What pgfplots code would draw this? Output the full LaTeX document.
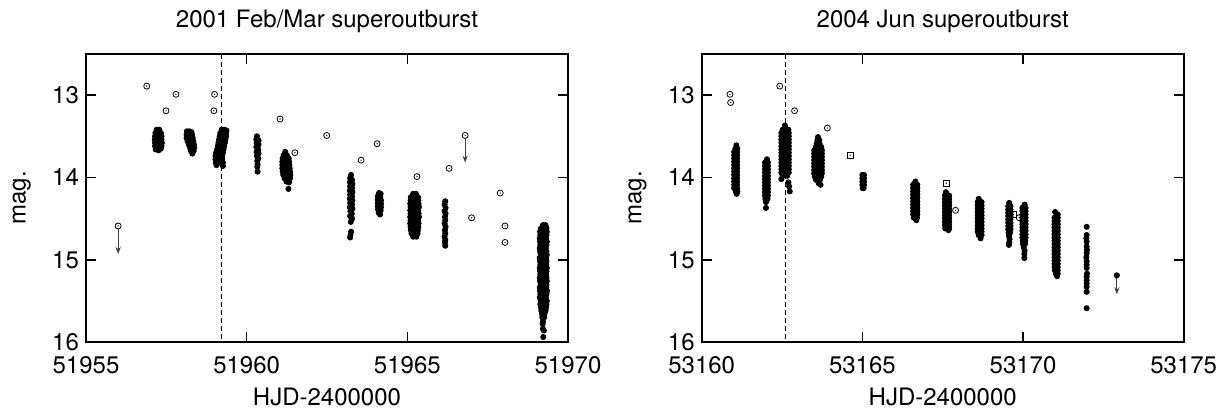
\documentclass[border=0pt]{standalone}
\usepackage{fontspec}
\setmainfont{TeX Gyre Heros}
\usepackage{pgfplots}
\pgfplotsset{compat=1.18}
\usetikzlibrary{arrows.meta}

\pgfdeclareplotmark{odot}{%
  \pgfpathcircle{\pgfpointorigin}{\pgfplotmarksize}\pgfusepathqstroke
  \pgfpathcircle{\pgfpointorigin}{0.35pt}\pgfusepathqfill}
\pgfdeclareplotmark{sqdot}{%
  \pgfpathrectangle{\pgfpoint{-\pgfplotmarksize}{-\pgfplotmarksize}}{\pgfpoint{2\pgfplotmarksize}{2\pgfplotmarksize}}\pgfusepathqstroke
  \pgfpathcircle{\pgfpointorigin}{0.35pt}\pgfusepathqfill}

\pgfplotsset{
  common/.style={
    scale only axis, width=241pt, height=144pt,
    y dir=reverse, ymin=12.5, ymax=16, ytick={13,14,15,16},
    tick align=inside, major tick length=5pt,
    axis line style={line width=0.8pt},
    every tick/.style={line width=0.8pt, black},
    scaled x ticks=false,
    /pgf/number format/assume math mode=true,
    /pgf/number format/1000 sep={},
    tick label style={font=\fontsize{12}{14}\selectfont},
    xticklabel style={yshift=-3.5pt},
    label style={font=\fontsize{12}{14}\selectfont},
    every axis title/.style={font=\fontsize{12}{14}\selectfont, at={(0.5,1)}, anchor=base, yshift=13pt},
    xlabel={HJD-2400000}, ylabel={mag.},
    xlabel style={at={(axis description cs:0.5,-0.191)}, anchor=center},
    ylabel style={at={(axis description cs:-0.133,0.5)}, anchor=center},
  },
  filled/.style={only marks, mark=*, mark size=1.3pt, color=black},
  obs/.style={only marks, mark=odot, mark size=1.5pt, color=black, mark options={line width=0.4pt}},
  obssq/.style={only marks, mark=sqdot, mark size=1.5pt, color=black, mark options={line width=0.4pt}},
  limarrow/.style={black!75, line width=0.5pt, -{Stealth[length=3.5pt,width=2.6pt]}},
}

\begin{document}
\begin{tikzpicture}
\path[use as bounding box] (0,0) rectangle (611.5pt,208pt);

% ---------------- 2001 ----------------
\begin{axis}[common, at={(43pt,37pt)}, anchor=south west,
  xmin=51955, xmax=51970, xtick={51955,51960,51965,51970},
  title={2001 Feb/Mar superoutburst}]
\addplot[black, line width=0.5pt, dash pattern=on 2.5pt off 1.5pt] coordinates {(51959.22,12.5) (51959.22,16)};
% visual observations
\addplot[obs] coordinates {
(51956.00,14.59) (51956.89,12.89) (51957.80,12.99) (51957.49,13.19) (51959.00,12.99) (51958.98,13.19)
(51961.04,13.29) (51961.50,13.70) (51962.49,13.49) (51964.06,13.59) (51963.56,13.79) (51965.30,13.99)
(51966.30,13.89) (51966.80,13.49) (51967.89,14.19) (51967.00,14.49) (51968.04,14.59) (51968.04,14.79)};
\addplot[limarrow] coordinates {(51956.00,14.63) (51956.00,14.93)};
\addplot[limarrow] coordinates {(51966.80,13.53) (51966.80,13.82)};
% CCD
\addplot[filled] coordinates {
(51957.20,13.42) (51957.28,13.42) (51957.16,13.46) (51957.24,13.45) (51957.33,13.46)
(51957.15,13.50) (51957.25,13.50) (51957.35,13.50) (51957.14,13.54) (51957.24,13.54) (51957.35,13.54)
(51957.15,13.58) (51957.25,13.58) (51957.36,13.58) (51957.15,13.62) (51957.25,13.62) (51957.35,13.62)
(51957.17,13.66) (51957.26,13.67) (51957.33,13.65)
(51958.14,13.44) (51958.22,13.44) (51958.28,13.45) (51958.13,13.48) (51958.22,13.48) (51958.30,13.48)
(51958.13,13.52) (51958.22,13.52) (51958.32,13.52) (51958.16,13.56) (51958.25,13.56) (51958.34,13.56)
(51958.20,13.60) (51958.28,13.60) (51958.36,13.60) (51958.24,13.64) (51958.31,13.64) (51958.37,13.64)
(51958.27,13.68) (51958.35,13.68) (51958.31,13.71)
(51959.22,13.42) (51959.30,13.42) (51959.37,13.43) (51959.18,13.46) (51959.27,13.46) (51959.36,13.46)
(51959.16,13.50) (51959.26,13.50) (51959.36,13.50) (51959.14,13.54) (51959.24,13.54) (51959.34,13.54)
(51959.12,13.58) (51959.22,13.58) (51959.32,13.58) (51959.10,13.62) (51959.20,13.62) (51959.30,13.62)
(51959.08,13.66) (51959.18,13.66) (51959.28,13.66) (51959.05,13.70) (51959.15,13.70) (51959.26,13.70)
(51959.03,13.74) (51959.13,13.74) (51959.24,13.74) (51959.03,13.78) (51959.13,13.78) (51959.24,13.78)
(51959.04,13.82) (51959.14,13.82) (51959.26,13.82) (51959.06,13.85) (51959.26,13.86)
(51960.32,13.50) (51960.30,13.54) (51960.37,13.55) (51960.31,13.58) (51960.37,13.60) (51960.30,13.63)
(51960.36,13.66) (51960.31,13.69) (51960.37,13.71) (51960.32,13.74) (51960.36,13.77) (51960.33,13.80)
(51960.34,13.84) (51960.33,13.87) (51960.34,13.93)
(51961.20,13.69) (51961.15,13.73) (51961.25,13.73) (51961.12,13.77) (51961.22,13.77) (51961.31,13.77)
(51961.11,13.81) (51961.21,13.81) (51961.32,13.81) (51961.11,13.85) (51961.21,13.85) (51961.33,13.85)
(51961.11,13.89) (51961.22,13.89) (51961.34,13.89) (51961.12,13.93) (51961.23,13.93) (51961.35,13.93)
(51961.14,13.97) (51961.25,13.97) (51961.36,13.97) (51961.18,14.01) (51961.28,14.01) (51961.35,14.01)
(51961.24,14.05) (51961.32,14.06) (51961.30,14.14)
(51963.25,13.97) (51963.22,14.01) (51963.28,14.03) (51963.21,14.06) (51963.29,14.08) (51963.22,14.11)
(51963.28,14.13) (51963.21,14.16) (51963.29,14.18) (51963.22,14.21) (51963.28,14.23) (51963.21,14.26)
(51963.29,14.28) (51963.22,14.31) (51963.28,14.33) (51963.21,14.36) (51963.29,14.38) (51963.23,14.41)
(51963.27,14.44) (51963.22,14.47) (51963.28,14.50) (51963.24,14.54) (51963.25,14.66) (51963.23,14.70)
(51963.22,14.73)
(51964.12,14.19) (51964.17,14.20) (51964.08,14.23) (51964.16,14.24) (51964.08,14.27) (51964.18,14.28)
(51964.08,14.31) (51964.18,14.32) (51964.08,14.35) (51964.18,14.36) (51964.09,14.39) (51964.17,14.40)
(51964.11,14.43) (51964.15,14.45)
(51965.18,14.20) (51965.27,14.20)
(51965.11,14.24) (51965.22,14.24) (51965.33,14.24) (51965.10,14.28) (51965.21,14.28) (51965.34,14.28)
(51965.09,14.32) (51965.22,14.32) (51965.35,14.32) (51965.10,14.36) (51965.23,14.36) (51965.36,14.36)
(51965.09,14.40) (51965.22,14.40) (51965.34,14.40) (51965.10,14.44) (51965.21,14.44) (51965.35,14.44)
(51965.09,14.48) (51965.22,14.48) (51965.36,14.48) (51965.10,14.52) (51965.23,14.52) (51965.34,14.52)
(51965.09,14.56) (51965.22,14.56) (51965.35,14.56) (51965.10,14.60) (51965.21,14.60) (51965.34,14.60)
(51965.11,14.64) (51965.22,14.64) (51965.33,14.64) (51965.13,14.68) (51965.23,14.68) (51965.32,14.68)
(51965.18,14.72) (51965.28,14.72)
(51966.18,14.29) (51966.16,14.33) (51966.19,14.37) (51966.16,14.41) (51966.19,14.44) (51966.17,14.48)
(51966.18,14.52) (51966.16,14.56) (51966.19,14.60) (51966.17,14.64) (51966.18,14.68) (51966.16,14.72)
(51966.18,14.76) (51966.17,14.79) (51966.18,14.83)
(51969.22,14.58) (51969.30,14.58)
(51969.16,14.62) (51969.26,14.62) (51969.33,14.62) (51969.13,14.66) (51969.24,14.66) (51969.34,14.66)
(51969.14,14.70) (51969.23,14.70) (51969.33,14.70) (51969.12,14.74) (51969.22,14.74) (51969.32,14.74)
(51969.13,14.78) (51969.24,14.78) (51969.34,14.78) (51969.14,14.82) (51969.25,14.82) (51969.33,14.82)
(51969.12,14.86) (51969.22,14.86) (51969.31,14.86) (51969.13,14.90) (51969.23,14.90) (51969.33,14.90)
(51969.15,14.94) (51969.25,14.94) (51969.34,14.94) (51969.12,14.98) (51969.22,14.98) (51969.32,14.98)
(51969.13,15.02) (51969.24,15.02) (51969.33,15.02) (51969.14,15.06) (51969.23,15.06) (51969.32,15.06)
(51969.12,15.10) (51969.22,15.10) (51969.34,15.10) (51969.13,15.14) (51969.25,15.14) (51969.33,15.14)
(51969.14,15.18) (51969.24,15.18) (51969.32,15.18) (51969.12,15.22) (51969.22,15.22) (51969.33,15.22)
(51969.13,15.26) (51969.23,15.26) (51969.34,15.26) (51969.15,15.30) (51969.25,15.30) (51969.33,15.30)
(51969.12,15.34) (51969.22,15.34) (51969.32,15.34) (51969.13,15.38) (51969.24,15.38) (51969.35,15.38)
(51969.14,15.42) (51969.23,15.42) (51969.33,15.42) (51969.12,15.46) (51969.22,15.46) (51969.31,15.46)
(51969.15,15.50) (51969.25,15.50) (51969.34,15.50) (51969.14,15.54) (51969.23,15.54) (51969.33,15.54)
(51969.16,15.58) (51969.25,15.58) (51969.32,15.58) (51969.17,15.62) (51969.24,15.62) (51969.30,15.62)
(51969.19,15.66) (51969.27,15.66) (51969.20,15.70) (51969.26,15.70)
(51969.22,15.75) (51969.21,15.78) (51969.22,15.84) (51969.25,15.86) (51969.23,15.94)};
\end{axis}

% ---------------- 2004 ----------------
\begin{axis}[common, at={(350.85pt,37pt)}, anchor=south west,
  xmin=53160, xmax=53175, xtick={53160,53165,53170,53175},
  title={2004 Jun superoutburst}]
\addplot[black, line width=0.5pt, dash pattern=on 2.5pt off 1.5pt] coordinates {(53162.62,12.5) (53162.62,16)};
\addplot[obs] coordinates {
(53160.88,12.99) (53160.90,13.09) (53162.43,12.89) (53162.89,13.19) (53163.91,13.40)
(53167.90,14.40) (53169.88,14.49)};
\addplot[obssq] coordinates {(53164.62,13.73) (53167.61,14.07) (53169.70,14.45)};
\addplot[limarrow] coordinates {(53172.92,15.22) (53172.92,15.42)};
\addplot[filled] coordinates {
(53161.08,13.61) (53161.05,13.65) (53161.11,13.65)
(53161.01,13.69) (53161.10,13.69) (53161.01,13.73) (53161.10,13.73) (53161.01,13.77) (53161.10,13.77)
(53161.01,13.81) (53161.10,13.81) (53161.01,13.85) (53161.10,13.85) (53161.01,13.89) (53161.10,13.89)
(53161.01,13.93) (53161.10,13.93) (53161.01,13.97) (53161.10,13.97) (53161.01,14.01) (53161.10,14.01)
(53161.01,14.05) (53161.10,14.05) (53161.01,14.09) (53161.10,14.09) (53161.01,14.13) (53161.10,14.13)
(53161.06,14.17) (53161.11,14.17) (53161.09,14.20)
(53162.03,13.78)
(53161.97,13.82) (53162.06,13.82) (53161.97,13.86) (53162.06,13.86) (53161.97,13.90) (53162.06,13.90)
(53161.97,13.94) (53162.06,13.94) (53161.97,13.98) (53162.06,13.98) (53161.97,14.02) (53162.06,14.02)
(53161.97,14.06) (53162.06,14.06) (53161.97,14.10) (53162.06,14.10) (53161.97,14.14) (53162.06,14.14)
(53161.97,14.18) (53162.06,14.18) (53161.97,14.22) (53162.06,14.22) (53161.98,14.26) (53162.05,14.26)
(53162.00,14.30) (53162.00,14.37)
(53162.59,13.37) (53162.52,13.42) (53162.64,13.42) (53162.70,13.42)
(53162.48,13.46) (53162.59,13.46) (53162.71,13.46) (53162.48,13.50) (53162.59,13.50) (53162.71,13.50)
(53162.48,13.54) (53162.59,13.54) (53162.71,13.54) (53162.48,13.58) (53162.59,13.58) (53162.71,13.58)
(53162.48,13.62) (53162.59,13.62) (53162.71,13.62) (53162.48,13.66) (53162.59,13.66) (53162.71,13.66)
(53162.48,13.70) (53162.59,13.70) (53162.71,13.70) (53162.48,13.74) (53162.59,13.74) (53162.71,13.74)
(53162.48,13.78) (53162.59,13.78) (53162.71,13.78) (53162.48,13.82) (53162.59,13.82) (53162.71,13.82)
(53162.48,13.86) (53162.59,13.86) (53162.71,13.86) (53162.48,13.90) (53162.59,13.90) (53162.71,13.90)
(53162.48,13.94) (53162.59,13.94) (53162.71,13.94) (53162.52,13.98) (53162.66,13.98)
(53162.48,14.02) (53162.70,14.06) (53162.72,14.11) (53162.74,14.17)
(53163.62,13.51) (53163.60,13.55) (53163.66,13.55) (53163.58,13.59) (53163.67,13.59)
(53163.55,13.63) (53163.66,13.63) (53163.72,13.63)
(53163.50,13.67) (53163.62,13.67) (53163.74,13.67) (53163.50,13.71) (53163.62,13.71) (53163.74,13.71)
(53163.50,13.75) (53163.62,13.75) (53163.74,13.75) (53163.50,13.79) (53163.62,13.79) (53163.74,13.79)
(53163.50,13.83) (53163.62,13.83) (53163.74,13.83) (53163.50,13.87) (53163.62,13.87) (53163.74,13.87)
(53163.50,13.91) (53163.62,13.91) (53163.74,13.91) (53163.50,13.95) (53163.62,13.95) (53163.74,13.95)
(53163.52,13.99) (53163.62,13.99) (53163.72,13.99) (53163.56,14.03) (53163.68,14.03)
(53163.64,14.07) (53163.70,14.09)
(53165.00,13.97) (53165.05,13.97) (53165.00,14.01) (53165.05,14.01) (53165.00,14.05) (53165.05,14.05)
(53165.00,14.09) (53165.05,14.09) (53165.01,14.13) (53165.04,14.13)
(53166.65,14.05)
(53166.58,14.09) (53166.71,14.09) (53166.58,14.13) (53166.71,14.13) (53166.58,14.17) (53166.71,14.17)
(53166.58,14.21) (53166.71,14.21) (53166.58,14.25) (53166.71,14.25) (53166.58,14.29) (53166.71,14.29)
(53166.58,14.33) (53166.71,14.33) (53166.58,14.37) (53166.71,14.37) (53166.58,14.41) (53166.71,14.41)
(53166.58,14.45) (53166.71,14.45) (53166.60,14.49) (53166.70,14.49) (53166.68,14.52)
(53167.60,14.18)
(53167.57,14.22) (53167.70,14.22) (53167.57,14.26) (53167.70,14.26) (53167.57,14.30) (53167.70,14.30)
(53167.57,14.34) (53167.70,14.34) (53167.57,14.38) (53167.70,14.38) (53167.57,14.42) (53167.70,14.42)
(53167.57,14.46) (53167.70,14.46) (53167.57,14.50) (53167.70,14.50) (53167.57,14.54) (53167.70,14.54)
(53167.57,14.58) (53167.70,14.58) (53167.58,14.62) (53167.70,14.62) (53167.68,14.64)
(53168.62,14.26)
(53168.59,14.30) (53168.71,14.30) (53168.59,14.34) (53168.71,14.34) (53168.59,14.38) (53168.71,14.38)
(53168.59,14.42) (53168.71,14.42) (53168.59,14.46) (53168.71,14.46) (53168.59,14.50) (53168.71,14.50)
(53168.59,14.54) (53168.71,14.54) (53168.59,14.58) (53168.71,14.58) (53168.59,14.62) (53168.71,14.62)
(53168.59,14.66) (53168.71,14.66) (53168.62,14.70) (53168.71,14.70) (53168.68,14.74)
(53169.57,14.31)
(53169.54,14.35) (53169.61,14.35) (53169.54,14.39) (53169.61,14.39) (53169.54,14.43) (53169.61,14.43)
(53169.54,14.47) (53169.61,14.47) (53169.54,14.51) (53169.61,14.51) (53169.54,14.55) (53169.61,14.55)
(53169.54,14.59) (53169.61,14.59) (53169.54,14.63) (53169.61,14.63) (53169.55,14.67) (53169.60,14.67)
(53169.56,14.71) (53169.58,14.75) (53169.57,14.79) (53169.56,14.82)
(53170.05,14.33)
(53169.98,14.37) (53170.08,14.37) (53169.98,14.41) (53170.08,14.41) (53169.98,14.45) (53170.08,14.45)
(53169.98,14.49) (53170.08,14.49) (53169.98,14.53) (53170.08,14.53) (53169.98,14.57) (53170.08,14.57)
(53169.98,14.61) (53170.08,14.61) (53169.98,14.65) (53170.08,14.65) (53169.98,14.69) (53170.08,14.69)
(53169.98,14.73) (53170.08,14.73) (53169.99,14.77) (53170.07,14.77) (53170.00,14.81) (53170.06,14.81)
(53170.02,14.85) (53170.05,14.89) (53170.04,14.93) (53170.04,14.98)
(53171.00,14.42) (53171.08,14.45)
(53170.98,14.49) (53171.08,14.49) (53170.98,14.53) (53171.08,14.53) (53170.98,14.57) (53171.08,14.57)
(53170.98,14.61) (53171.08,14.61) (53170.98,14.65) (53171.08,14.65) (53170.98,14.69) (53171.08,14.69)
(53170.98,14.73) (53171.08,14.73) (53170.98,14.77) (53171.08,14.77) (53170.98,14.81) (53171.08,14.81)
(53170.98,14.85) (53171.08,14.85) (53170.98,14.89) (53171.08,14.89) (53170.98,14.93) (53171.08,14.93)
(53170.98,14.97) (53171.08,14.97) (53170.98,15.01) (53171.08,15.01) (53170.98,15.05) (53171.08,15.05)
(53170.98,15.09) (53171.08,15.09) (53170.99,15.13) (53171.08,15.13) (53171.02,15.17) (53171.08,15.17)
(53171.06,15.20)
(53171.98,14.60) (53171.98,14.70) (53171.97,14.74) (53171.98,14.78) (53171.98,14.84) (53171.99,14.88)
(53171.98,14.92) (53171.97,14.97) (53171.98,15.02) (53171.98,15.06) (53171.98,15.10) (53171.99,15.17)
(53171.98,15.21) (53171.98,15.25) (53171.98,15.29) (53171.98,15.33) (53171.98,15.39) (53171.98,15.59)
(53172.92,15.19)};
\end{axis}
\end{tikzpicture}
\end{document}
